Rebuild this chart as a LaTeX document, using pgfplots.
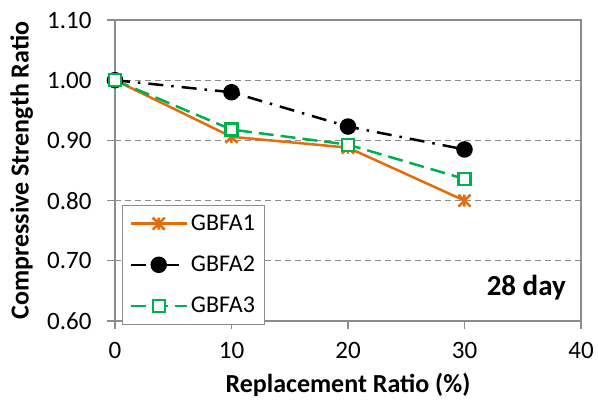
\documentclass[border=0pt]{standalone}
\usepackage{pgfplots}
\pgfplotsset{compat=1.18}
\usepackage{fontspec}
\setmainfont{Carlito}
\definecolor{excorange}{RGB}{228,108,10}
\definecolor{excgreen}{RGB}{0,176,80}
\definecolor{axgray}{RGB}{140,140,140}
\newcommand{\lf}{\fontsize{24}{28}\selectfont}
\pgfdeclareplotmark{xbar}{%
  \pgfpathmoveto{\pgfqpoint{-\pgfplotmarksize}{-\pgfplotmarksize}}%
  \pgfpathlineto{\pgfqpoint{\pgfplotmarksize}{\pgfplotmarksize}}%
  \pgfpathmoveto{\pgfqpoint{-\pgfplotmarksize}{\pgfplotmarksize}}%
  \pgfpathlineto{\pgfqpoint{\pgfplotmarksize}{-\pgfplotmarksize}}%
  \pgfpathmoveto{\pgfqpoint{0pt}{-\pgfplotmarksize}}%
  \pgfpathlineto{\pgfqpoint{0pt}{\pgfplotmarksize}}%
  \pgfusepathqstroke}
\begin{document}
\begin{tikzpicture}
\begin{axis}[
  scale only axis,
  width=466pt, height=301pt,
  xmin=0, xmax=40, ymin=0.6, ymax=1.1,
  xtick={0,10,20,30,40},
  ytick={0.6,0.7,0.8,0.9,1.0,1.1},
  /pgf/number format/assume math mode=true,
  ticklabel style={font=\fontsize{25}{29}\selectfont},
  xticklabel style={yshift=-10pt},
  yticklabel style={/pgf/number format/fixed, /pgf/number format/fixed zerofill, /pgf/number format/precision=2, xshift=-12pt},
  tick align=outside,
  major tick length=8pt,
  tick style={axgray, line width=1.2pt},
  xtick pos=bottom, ytick pos=left,
  axis line style={axgray, line width=1.3pt},
  ymajorgrids,
  grid style={axgray, dashed, line width=1.1pt, dash pattern=on 6pt off 4pt},
  xlabel={\textbf{Replacement Ratio (\%)}},
  ylabel={\textbf{Compressive Strength Ratio}},
  label style={font=\fontsize{26}{30}\selectfont},
  xlabel style={at={(axis description cs:0.5,-0.213)}, anchor=center},
  ylabel style={at={(axis description cs:-0.2,0.5)}, anchor=center},
  legend style={at={(0.015,-0.013)}, anchor=south west, draw=axgray, line width=1pt,
    fill=white, row sep=18pt, inner sep=7pt,
    nodes={inner sep=3pt}},
  legend cell align=left,
  legend image code/.code={\draw[mark repeat=2,mark phase=2] plot coordinates {(0pt,0pt) (28pt,0pt) (56pt,0pt)};},
  clip=false,
]
\addplot[excorange, line width=2.5pt, mark=xbar, mark size=6pt, mark options={solid, line width=2.5pt}]
  coordinates {(0,1.00) (10,0.906) (20,0.888) (30,0.800)};
\addlegendentry{\lf GBFA1}
\addplot[black, line width=2.5pt, dash pattern=on 15pt off 8pt on 2.5pt off 8pt, mark=*, mark size=7pt, mark options={solid}]
  coordinates {(0,1.00) (10,0.980) (20,0.923) (30,0.885)};
\addlegendentry{\lf GBFA2}
\addplot[excgreen, line width=2.5pt, dash pattern=on 15pt off 7pt, mark=square*, mark size=6pt, mark options={solid, fill=white, line width=2.2pt}]
  coordinates {(0,1.00) (10,0.918) (20,0.893) (30,0.836)};
\addlegendentry{\lf GBFA3}
\node[anchor=east, font=\fontsize{29}{33}\selectfont\bfseries] at (axis cs:39.0,0.655) {28 day};
\end{axis}
\pgfresetboundingbox
\path (current axis.south west) ++(-115pt,-87pt) rectangle ++(598pt,408pt);
\end{tikzpicture}
\end{document}
